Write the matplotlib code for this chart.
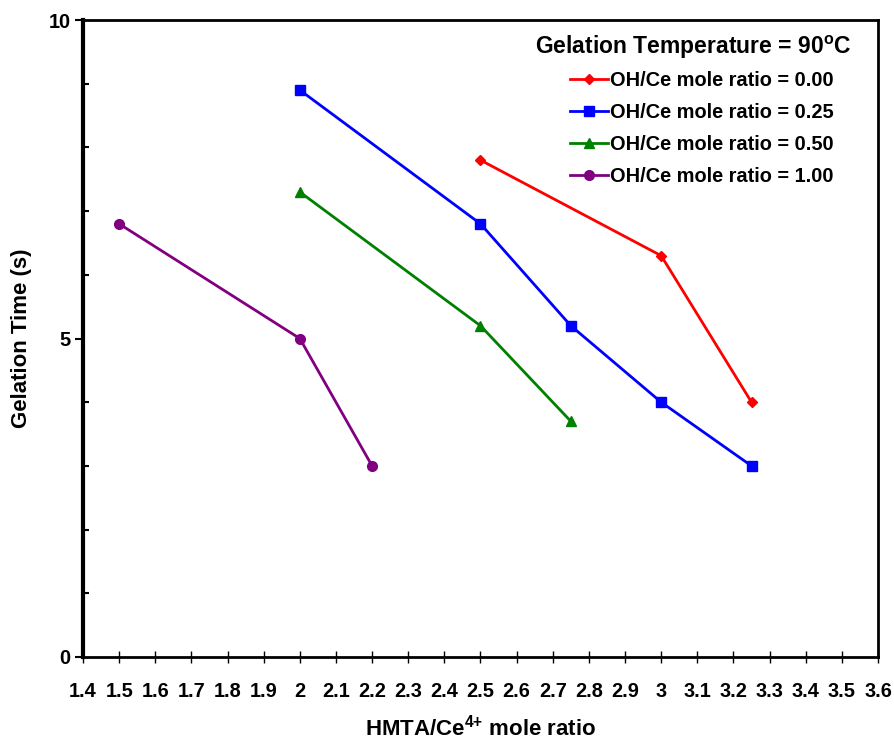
import matplotlib
matplotlib.use("Agg")
import matplotlib.pyplot as plt
from matplotlib.ticker import MultipleLocator

plt.rcParams['font.family'] = ['Liberation Sans', 'DejaVu Sans']
plt.rcParams['font.weight'] = 'bold'
plt.rcParams['mathtext.fontset'] = 'custom'
plt.rcParams['mathtext.rm'] = 'Liberation Sans:bold'
plt.rcParams['mathtext.bf'] = 'Liberation Sans:bold'
plt.rcParams['mathtext.it'] = 'Liberation Sans:bold'
plt.rcParams['mathtext.default'] = 'rm'

x_red = [2.5, 3.0, 3.25]
y_red = [7.8, 6.3, 4.0]
x_blue = [2.0, 2.5, 2.75, 3.0, 3.25]
y_blue = [8.9, 6.8, 5.2, 4.0, 3.0]
x_green = [2.0, 2.5, 2.75]
y_green = [7.3, 5.2, 3.7]
x_purple = [1.5, 2.0, 2.2]
y_purple = [6.8, 5.0, 3.0]
labels = ["OH/Ce mole ratio = 0.00", "OH/Ce mole ratio = 0.25",
          "OH/Ce mole ratio = 0.50", "OH/Ce mole ratio = 1.00"]
legend_title = "Gelation Temperature = 90$^{o}$C"
xticks = [1.4, 1.5, 1.6, 1.7, 1.8, 1.9, 2, 2.1, 2.2, 2.3, 2.4, 2.5, 2.6, 2.7,
          2.8, 2.9, 3, 3.1, 3.2, 3.3, 3.4, 3.5, 3.6]

fig = plt.figure(figsize=(8.95, 7.4), dpi=100)
ax = fig.add_axes([83/895, 83/740, (878-83)/895, (657-20)/740])

ax.plot(x_red, y_red, color='#ff0000', marker='D', markersize=5.5, lw=2, label=labels[0])
ax.plot(x_blue, y_blue, color='#0000ff', marker='s', markersize=7, lw=2, label=labels[1])
ax.plot(x_green, y_green, color='#008000', marker='^', markersize=7.5, lw=2, label=labels[2])
ax.plot(x_purple, y_purple, color='#800080', marker='o', markersize=7, lw=2, label=labels[3])

ax.set_xlim(1.4, 3.6)
ax.set_ylim(0, 10)
ax.set_xticks(xticks)
ax.set_xticklabels([("%g" % t) for t in xticks])
ax.set_yticks([0, 5, 10])
ax.yaxis.set_minor_locator(MultipleLocator(1))
ax.tick_params(axis='x', which='major', direction='inout', length=8, width=1, labelsize=14.4, pad=14)
ax.tick_params(axis='y', which='major', direction='out', length=6, width=1.5, labelsize=14.4, pad=3)
ax.tick_params(axis='y', which='minor', direction='in', length=4, width=1.5)
for lab in ax.get_xticklabels() + ax.get_yticklabels():
    lab.set_fontweight('bold')

ax.spines['left'].set_linewidth(3)
for s in ['top', 'right', 'bottom']:
    ax.spines[s].set_linewidth(2)

ax.set_xlabel("HMTA/Ce$^{4{+}}$ mole ratio", fontsize=16, fontweight='bold', labelpad=10)
ax.set_ylabel("Gelation Time (s)", fontsize=16, fontweight='bold', labelpad=12)

# legend title placed as text
ax.text((851-83)/795, (657-47)/637, legend_title, transform=ax.transAxes,
        ha='right', va='center', fontsize=16.5, fontweight='bold')

leg = ax.legend(loc='upper right', bbox_to_anchor=((834-83)/795, (657-71)/637),
                borderaxespad=0, borderpad=0, frameon=False,
                handlelength=1.9, handletextpad=0.1, labelspacing=0.65,
                prop={'weight': 'bold', 'size': 14.4})

fig.savefig("out.png", dpi=100)
